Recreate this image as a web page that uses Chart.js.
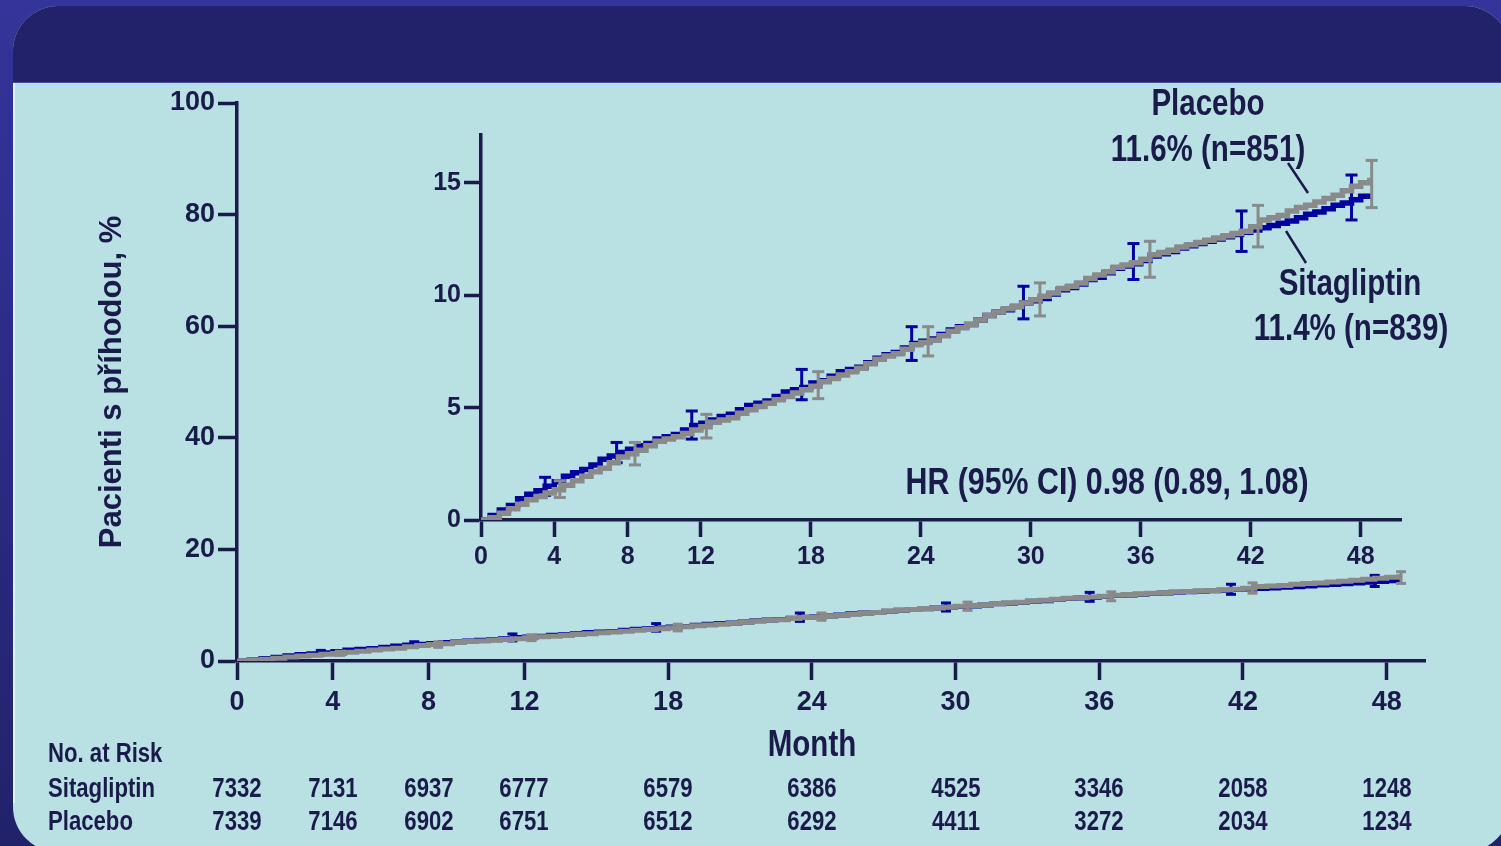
<!DOCTYPE html>
<html><head><meta charset="utf-8">
<script src="https://cdn.jsdelivr.net/npm/chart.js@4.4.1/dist/chart.umd.min.js"></script>
<style>
html,body{margin:0;padding:0;width:1501px;height:846px;overflow:hidden;}
body{position:relative;background:linear-gradient(180deg,#34349a 0%,#2c2c86 45%,#22226a 100%);
 font-family:'Liberation Sans',Arial,sans-serif;font-weight:bold;color:#1b1b4b;}
#panel{position:absolute;left:13px;top:6px;width:1497px;height:846px;border-radius:45px;background:#b9e0e3;overflow:hidden;}
#header{position:absolute;left:0;top:0;width:100%;height:76px;background:#22226a;border-bottom:1px solid #4b4b9c;}
#edge{position:absolute;left:0;top:77px;width:2px;height:720px;background:#e2f1f3;}
canvas{position:absolute;}
.t{position:absolute;white-space:nowrap;line-height:1;transform:translate(-50%,-50%) scaleX(0.82);}
.l{position:absolute;white-space:nowrap;line-height:1;transform-origin:0 50%;transform:translate(0,-50%) scaleX(0.82);}
</style></head>
<body>
<div id="panel"><div id="header"></div><div id="edge"></div></div>
<canvas id="main" width="1501" height="846" style="left:0;top:0;width:1501px;height:846px"></canvas>
<canvas id="inset" width="1080" height="480" style="left:380px;top:100px;width:1080px;height:480px"></canvas>
<svg width="1501" height="846" style="position:absolute;left:0;top:0">
 <line x1="1288" y1="163" x2="1308" y2="193" stroke="#1b1b4b" stroke-width="2.5"/>
 <line x1="1286" y1="231" x2="1306" y2="263" stroke="#1b1b4b" stroke-width="2.5"/>
</svg>
<div id="texts"></div>
<script>
// ---- data ----
const months = [0,0.5,1,1.5,2,2.5,3,3.5,4,4.5,5,5.5,6,6.5,7,7.5,8,8.5,9,9.5,10,10.5,11,11.5,12,12.5,13,13.5,14,14.5,15,15.5,16,16.5,17,17.5,18,18.5,19,19.5,20,20.5,21,21.5,22,22.5,23,23.5,24,24.5,25,25.5,26,26.5,27,27.5,28,28.5,29,29.5,30,30.5,31,31.5,32,32.5,33,33.5,34,34.5,35,35.5,36,36.5,37,37.5,38,38.5,39,39.5,40,40.5,41,41.5,42,42.5,43,43.5,44,44.5,45,45.5,46,46.5,47,47.5,48,48.5,48.6];
const sitagliptin = [0,0.2,0.45,0.65,0.95,1.15,1.3,1.5,1.7,1.95,2.1,2.25,2.45,2.7,2.85,3.0,3.15,3.3,3.4,3.6,3.7,3.8,4.0,4.2,4.3,4.45,4.6,4.7,4.9,5.1,5.2,5.3,5.5,5.7,5.8,5.9,6.1,6.2,6.4,6.6,6.7,6.8,7.0,7.2,7.35,7.45,7.65,7.85,7.95,8.05,8.25,8.45,8.6,8.7,8.9,9.1,9.25,9.35,9.5,9.65,9.75,9.85,10.05,10.25,10.35,10.5,10.7,10.8,11.0,11.2,11.3,11.4,11.55,11.75,11.85,11.95,12.1,12.2,12.3,12.4,12.5,12.6,12.7,12.8,12.9,13.0,13.1,13.2,13.3,13.45,13.6,13.7,13.85,14.0,14.1,14.25,14.4,14.4,14.4];
const placebo = [0,0.1,0.3,0.5,0.7,0.9,1.05,1.2,1.35,1.55,1.75,1.95,2.15,2.3,2.55,2.8,2.95,3.1,3.3,3.5,3.6,3.7,3.85,4.0,4.15,4.35,4.45,4.55,4.75,4.9,5.05,5.2,5.35,5.5,5.65,5.8,5.95,6.15,6.3,6.45,6.6,6.75,6.95,7.15,7.3,7.4,7.6,7.8,7.9,8.0,8.2,8.4,8.55,8.7,8.9,9.1,9.25,9.4,9.5,9.65,9.8,9.95,10.1,10.3,10.4,10.55,10.75,10.9,11.05,11.25,11.35,11.45,11.6,11.8,11.9,12.0,12.15,12.25,12.35,12.45,12.55,12.65,12.75,12.85,13.05,13.35,13.45,13.55,13.75,13.9,14.0,14.15,14.3,14.45,14.65,14.85,15.0,15.1,15.1];
const sitaBarMonths = [3.5,7.4,11.5,17.5,23.5,29.6,35.6,41.5,47.5];
const sitaLow  = [1.1,2.55,3.6,5.35,7.1,8.95,10.7,11.95,13.35];
const sitaHigh = [1.9,3.45,4.85,6.7,8.6,10.4,12.3,13.75,15.35];
const placBarMonths = [4.3,8.4,12.3,18.4,24.4,30.5,36.5,42.4,48.6];
const placLow  = [1.0,2.45,3.65,5.4,7.3,9.08,10.8,12.15,13.9];
const placHigh = [1.75,3.45,4.7,6.6,8.6,10.55,12.4,14.0,16.0];
const xTickMonths = [0,4,8,12,18,24,30,36,42,48];
const mainYTicks = [0,20,40,60,80,100];
const insetYTicks = [0,5,10,15];
const riskMonths = [0,4,8,12,18,24,30,36,42,48];
const riskSitagliptin = [7332,7131,6937,6777,6579,6386,4525,3346,2058,1248];
const riskPlacebo = [7339,7146,6902,6751,6512,6292,4411,3272,2034,1234];

// ---- styles ----
const INK = '#1b1b4b', NAVY = '#0000a0', GRAY = '#8a8a8a';
const FAM = "'Liberation Sans',Arial,sans-serif";
const pts = (xs, ys) => xs.map((x,i)=>({x, y:ys[i]}));
function barPts(xs, lo, hi){ const a=[]; xs.forEach((x,i)=>{a.push({x,y:lo[i]},{x,y:hi[i]},{x,y:null});}); return a; }
// Chart.js draws dataset 0 on top, so list top-most first
function datasets(lw, cap){
  return [
    {data:barPts(placBarMonths,placLow,placHigh), borderColor:GRAY, borderWidth:3, pointStyle:'line', pointRadius:cap, pointBorderWidth:3, pointBorderColor:GRAY, spanGaps:false},
    {data:pts(months,placebo), stepped:true, borderColor:GRAY, borderWidth:lw, pointRadius:0, fill:false},
    {data:barPts(sitaBarMonths,sitaLow,sitaHigh), borderColor:NAVY, borderWidth:3, pointStyle:'line', pointRadius:cap, pointBorderWidth:3, pointBorderColor:NAVY, spanGaps:false},
    {data:pts(months,sitagliptin), stepped:true, borderColor:NAVY, borderWidth:lw, pointRadius:0, fill:false}
  ];
}
function axis(min,max,tickVals,fontSize,tl,size,horizontal,pad,extra){
  const o = {type:'linear', min, max,
    afterBuildTicks: s => { s.ticks = tickVals.map(v=>({value:v})); },
    ticks:{font:{family:FAM,size:fontSize,weight:'bold'}, color:INK, padding:pad, autoSkip:false, maxRotation:0},
    grid:{drawOnChartArea:false, drawTicks:true, tickLength:tl, tickWidth:3.5, color:INK},
    border:{display:true, color:INK, width:3.5},
    afterFit: s => { if(horizontal) s.height=size; else s.width=size; }
  };
  return Object.assign(o, extra||{});
}
const common = {responsive:false, animation:false, events:[],
  plugins:{legend:{display:false}, tooltip:{enabled:false}}};

const mainChart = new Chart(document.getElementById('main'), {
  type:'line', data:{datasets:datasets(5,5)},
  options:Object.assign({}, common, {
    layout:{padding:{left:90, top:103, right:76, bottom:125}},
    scales:{
      x: axis(0,49.6,xTickMonths,27,19,60,true,6),
      y: axis(0,100,mainYTicks,27,19,147,false,3,{title:{display:true,text:'Pacienti s příhodou, %',color:INK,padding:{top:4,bottom:0},font:{family:FAM,size:31,weight:'bold'}}})
    }
  })
});

new Chart(document.getElementById('inset'), {
  type:'line', data:{datasets:datasets(5.5,6)},
  options:Object.assign({}, common, {
    layout:{padding:{left:20, top:35, right:59, bottom:10}},
    scales:{
      x: axis(0,50.2,xTickMonths,25,17,50,true,5),
      y: axis(0,17.13,insetYTicks,25,17,81,false,3)
    }
  })
});

// ---- texts ----
const T = document.getElementById('texts');
function txt(s, x, y, size, cls){ const d=document.createElement('div'); d.className=cls||'t'; d.textContent=s;
  d.style.left=x+'px'; d.style.top=y+'px'; d.style.fontSize=size+'px'; T.appendChild(d); }
txt('Placebo',1208,103,36); txt('11.6% (n=851)',1208,149,36);
txt('Sitagliptin',1350,283,36); txt('11.4% (n=839)',1351,328,36);
txt('HR (95% CI) 0.98 (0.89, 1.08)',1107,481,37);
txt('Month',812,744,36);
txt('No. at Risk',48,753,27,'l'); txt('Sitagliptin',48,788,27,'l'); txt('Placebo',48,821,27,'l');
const sx = mainChart.scales.x;
riskMonths.forEach((m,i)=>{ const px = sx.getPixelForValue(m);
  txt(String(riskSitagliptin[i]), px, 788, 27); txt(String(riskPlacebo[i]), px, 821, 27); });
</script>
</body></html>
